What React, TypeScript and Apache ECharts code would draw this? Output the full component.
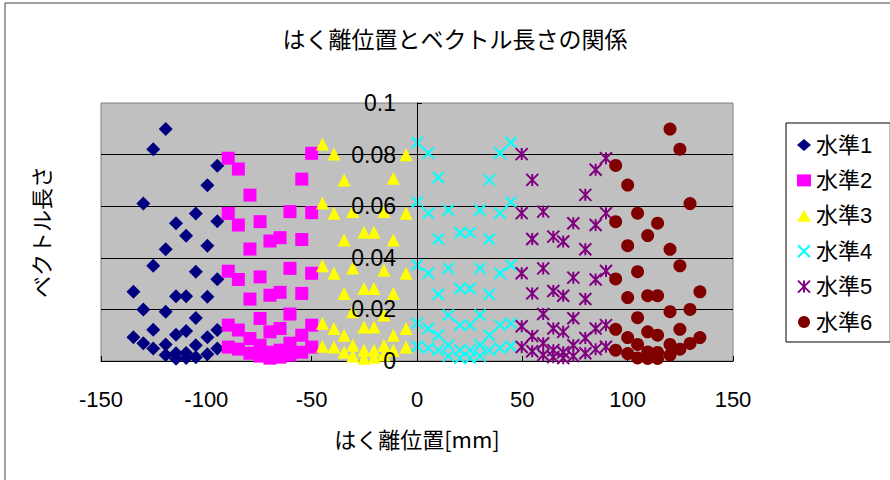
import { useEffect, useRef } from "react";
import * as echarts from "echarts";

// Axis ranges
const X_MIN = -150;
const X_MAX = 150;
const X_STEP = 50;
const Y_MIN = 0;
const Y_MAX = 0.1;
const Y_STEP = 0.02;

const seriesNames = ["水準1", "水準2", "水準3", "水準4", "水準5", "水準6"];
const seriesColors = ["#000080", "#FF00FF", "#FFFF00", "#00FFFF", "#800080", "#800000"];

// [はく離位置 mm, ベクトル長さ]
const level1: [number, number][] = [
  [-134.6, 0.0268], [-134.6, 0.0092],
  [-129.9, 0.061], [-129.9, 0.02], [-129.9, 0.0069],
  [-125.2, 0.0821], [-125.2, 0.0369], [-125.2, 0.0121], [-125.2, 0.0048],
  [-119.3, 0.0899], [-119.3, 0.0433], [-119.3, 0.0191], [-119.3, 0.0064], [-119.3, 0.0023],
  [-114.4, 0.0534], [-114.4, 0.0251], [-114.4, 0.0102], [-114.4, 0.003], [-114.4, 0.0009],
  [-109.6, 0.0485], [-109.6, 0.0251], [-109.6, 0.0116], [-109.6, 0.0031], [-109.6, 0.0012],
  [-105.0, 0.0572], [-105.0, 0.0346], [-105.0, 0.0167], [-105.0, 0.0061], [-105.0, 0.0015],
  [-99.5, 0.0681], [-99.5, 0.0447], [-99.5, 0.0249], [-99.5, 0.0092], [-99.5, 0.0026],
  [-94.8, 0.0757], [-94.8, 0.0542], [-94.8, 0.0317], [-94.8, 0.012], [-94.8, 0.0048],
];

const level2: [number, number][] = [
  [-89.6, 0.0786], [-89.6, 0.0572], [-89.6, 0.0348], [-89.6, 0.0139], [-89.6, 0.0054],
  [-84.8, 0.0744], [-84.8, 0.0527], [-84.8, 0.0316], [-84.8, 0.012], [-84.8, 0.0046],
  [-79.3, 0.0643], [-79.3, 0.0434], [-79.3, 0.024], [-79.3, 0.0087], [-79.3, 0.003],
  [-74.5, 0.054], [-74.5, 0.0326], [-74.5, 0.0165], [-74.5, 0.0061], [-74.5, 0.0019],
  [-69.8, 0.0465], [-69.8, 0.0255], [-69.8, 0.0113], [-69.8, 0.0034], [-69.8, 0.0011],
  [-65.0, 0.0478], [-65.0, 0.0266], [-65.0, 0.0126], [-65.0, 0.0042], [-65.0, 0.0015],
  [-60.3, 0.0579], [-60.3, 0.0359], [-60.3, 0.0182], [-60.3, 0.0069], [-60.3, 0.0023],
  [-54.7, 0.0705], [-54.7, 0.0471], [-54.7, 0.0262], [-54.7, 0.01], [-54.7, 0.0034],
  [-50.0, 0.0805], [-50.0, 0.0575], [-50.0, 0.034], [-50.0, 0.0139], [-50.0, 0.0054],
];

const level3: [number, number][] = [
  [-44.9, 0.0841], [-44.9, 0.0612], [-44.9, 0.0369], [-44.9, 0.0146], [-44.9, 0.0057],
  [-39.4, 0.0802], [-39.4, 0.0573], [-39.4, 0.034], [-39.4, 0.0126], [-39.4, 0.0054],
  [-34.6, 0.0702], [-34.6, 0.0469], [-34.6, 0.0262], [-34.6, 0.01], [-34.6, 0.0034],
  [-30.5, 0.0579], [-30.5, 0.036], [-30.5, 0.0191], [-30.5, 0.0061], [-30.5, 0.0019],
  [-25.2, 0.0499], [-25.2, 0.0281], [-25.2, 0.0132], [-25.2, 0.0042], [-25.2, 0.0011],
  [-20.4, 0.0499], [-20.4, 0.0281], [-20.4, 0.0132], [-20.4, 0.0042], [-20.4, 0.0015],
  [-15.7, 0.0579], [-15.7, 0.0352], [-15.7, 0.0178], [-15.7, 0.0061], [-15.7, 0.0023],
  [-11.2, 0.0708], [-11.2, 0.0469], [-11.2, 0.0262], [-11.2, 0.01], [-11.2, 0.0042],
  [-5.2, 0.0799], [-5.2, 0.0573], [-5.2, 0.034], [-5.2, 0.0126], [-5.2, 0.0054],
];

const level4: [number, number][] = [
  [0.1, 0.0847], [0.1, 0.0616], [0.1, 0.0372], [0.1, 0.0146], [0.1, 0.0057],
  [5.4, 0.0806], [5.4, 0.0573], [5.4, 0.034], [5.4, 0.0126], [5.4, 0.005],
  [10.1, 0.0711], [10.1, 0.0473], [10.1, 0.0259], [10.1, 0.01], [10.1, 0.0042],
  [14.9, 0.0585], [14.9, 0.0359], [14.9, 0.0178], [14.9, 0.0061], [14.9, 0.0019],
  [20.4, 0.0497], [20.4, 0.0281], [20.4, 0.0139], [20.4, 0.0042], [20.4, 0.0011],
  [25.2, 0.0497], [25.2, 0.0281], [25.2, 0.0139], [25.2, 0.0042], [25.2, 0.0011],
  [29.9, 0.0585], [29.9, 0.0359], [29.9, 0.0178], [29.9, 0.0061], [29.9, 0.0019],
  [34.3, 0.0702], [34.3, 0.0473], [34.3, 0.0259], [34.3, 0.01], [34.3, 0.0042],
  [39.4, 0.0806], [39.4, 0.0573], [39.4, 0.034], [39.4, 0.0139], [39.4, 0.005],
  [44.6, 0.0847], [44.6, 0.0616], [44.6, 0.0372], [44.6, 0.0146], [44.6, 0.0057],
];

const level5: [number, number][] = [
  [49.7, 0.0802], [49.7, 0.0573], [49.7, 0.034], [49.7, 0.0135], [49.7, 0.0054],
  [54.7, 0.0702], [54.7, 0.0473], [54.7, 0.0262], [54.7, 0.0097], [54.7, 0.0038],
  [59.9, 0.0579], [59.9, 0.0359], [59.9, 0.0182], [59.9, 0.0069], [59.9, 0.0023],
  [64.7, 0.0482], [64.7, 0.0271], [64.7, 0.0126], [64.7, 0.0042], [64.7, 0.0015],
  [69.4, 0.0463], [69.4, 0.0253], [69.4, 0.0113], [69.4, 0.0034], [69.4, 0.0011],
  [74.2, 0.0534], [74.2, 0.0323], [74.2, 0.0166], [74.2, 0.0061], [74.2, 0.0019],
  [79.9, 0.0644], [79.9, 0.0433], [79.9, 0.024], [79.9, 0.0089], [79.9, 0.003],
  [84.8, 0.0741], [84.8, 0.0527], [84.8, 0.0316], [84.8, 0.0126], [84.8, 0.0046],
  [89.7, 0.0786], [89.7, 0.0573], [89.7, 0.0349], [89.7, 0.0139], [89.7, 0.0055],
];

const level6: [number, number][] = [
  [94.3, 0.0758], [94.3, 0.054], [94.3, 0.0318], [94.3, 0.0123], [94.3, 0.0042],
  [100.0, 0.0682], [100.0, 0.0447], [100.0, 0.0246], [100.0, 0.0091], [100.0, 0.0029],
  [104.7, 0.0573], [104.7, 0.0346], [104.7, 0.0168], [104.7, 0.0064], [104.7, 0.0012],
  [109.5, 0.0486], [109.5, 0.0253], [109.5, 0.0113], [109.5, 0.0035], [109.5, 0.001],
  [114.2, 0.0534], [114.2, 0.0253], [114.2, 0.01], [114.2, 0.0033], [114.2, 0.001],
  [120.1, 0.0899], [120.1, 0.0433], [120.1, 0.0191], [120.1, 0.0064], [120.1, 0.0023],
  [124.8, 0.0821], [124.8, 0.0369], [124.8, 0.0123], [124.8, 0.0046],
  [129.6, 0.061], [129.6, 0.02], [129.6, 0.0068],
  [134.3, 0.0268], [134.3, 0.0091],
];

const seriesData = [level1, level2, level3, level4, level5, level6];

const CROSS = "path://M0,0L10,10M10,0L0,10";
const STAR = "path://M0,0L10,10M10,0L0,10M5,0L5,10";
const seriesSymbols = ["diamond", "rect", "triangle", CROSS, STAR, "circle"];
const seriesSymbolSizes = [14, 13, 13, 11, 12, 13];

const LATIN = "'Liberation Sans', Arial, 'Noto Sans CJK JP', sans-serif";
const CJK = "'Noto Sans CJK JP', 'Liberation Sans', sans-serif";

// Plot area in pixels
const GRID_LEFT = 101;
const GRID_RIGHT = 157;
const CHART_W = 890;

export default function App() {
  const ref = useRef<HTMLDivElement>(null);

  useEffect(() => {
    if (!ref.current) return;
    const chart = echarts.init(ref.current, undefined, { renderer: "svg" });

    // the value axis crosses at x = 0, i.e. the middle of the plot
    const plotW = CHART_W - GRID_LEFT - GRID_RIGHT;
    const zeroOffset = -Math.round((plotW * (0 - X_MIN)) / (X_MAX - X_MIN));

    const series = seriesData.map((data, i) => {
      const lineOnly = i === 3 || i === 4;
      return {
        name: seriesNames[i],
        type: "scatter",
        data,
        symbol: seriesSymbols[i],
        symbolSize: seriesSymbolSizes[i],
        xAxisIndex: 0,
        yAxisIndex: 0,
        itemStyle: lineOnly
          ? { color: seriesColors[i], borderColor: seriesColors[i], borderWidth: 2, opacity: 1 }
          : { color: seriesColors[i], opacity: 1 },
        emphasis: { disabled: true },
      };
    });

    const option = {
      animation: false,
      backgroundColor: "#ffffff",
      graphic: [
        {
          type: "rect",
          z: -10,
          shape: { x: 5, y: 3, width: 900, height: 490 },
          style: { fill: "none", stroke: "#404040", lineWidth: 1 },
        },
        {
          type: "text",
          x: 455,
          y: 38,
          style: {
            text: "はく離位置とベクトル長さの関係",
            fontFamily: CJK,
            fontSize: 23,
            fill: "#000",
            align: "center",
            verticalAlign: "middle",
          },
        },
        {
          type: "text",
          x: 40,
          y: 232,
          rotation: Math.PI / 2,
          style: {
            text: "ベクトル長さ",
            fontFamily: CJK,
            fontSize: 22,
            fill: "#000",
            align: "center",
            verticalAlign: "middle",
          },
        },
      ],
      grid: {
        left: GRID_LEFT,
        right: GRID_RIGHT,
        top: 103,
        bottom: 119,
        show: true,
        backgroundColor: "#C0C0C0",
        borderColor: "#808080",
        borderWidth: 1,
      },
      legend: {
        orient: "vertical",
        left: 786,
        top: 123,
        padding: [10, 18, 8, 11],
        itemGap: 11.4,
        itemWidth: 14,
        itemHeight: 12,
        borderColor: "#000",
        borderWidth: 1,
        backgroundColor: "#fff",
        textStyle: { fontSize: 22, fontFamily: LATIN, color: "#000", lineHeight: 24 },
        data: seriesNames,
      },
      xAxis: {
        type: "value",
        min: X_MIN,
        max: X_MAX,
        interval: X_STEP,
        axisLine: { show: true, onZero: true, lineStyle: { color: "#000", width: 1 } },
        axisTick: { show: true, inside: true, length: 5, lineStyle: { color: "#000" } },
        axisLabel: { fontSize: 22, fontFamily: LATIN, color: "#000", margin: 27 },
        splitLine: { show: false },
        name: "はく離位置[mm]",
        nameLocation: "middle",
        nameGap: 66,
        nameTextStyle: { fontSize: 22, fontFamily: CJK, color: "#000" },
      },
      yAxis: [
        {
          type: "value",
          min: Y_MIN,
          max: Y_MAX,
          interval: Y_STEP,
          position: "left",
          z: 0,
          axisLine: { show: false, onZero: false },
          axisTick: { show: false },
          axisLabel: { show: false },
          splitLine: { show: true, showMaxLine: false, lineStyle: { color: "#000", width: 1 } },
        },
        {
          type: "value",
          min: Y_MIN,
          max: Y_MAX,
          interval: Y_STEP,
          position: "left",
          offset: zeroOffset,
          z: 10,
          axisLine: { show: true, onZero: false, lineStyle: { color: "#000", width: 1 } },
          axisTick: { show: true, inside: true, length: 5, lineStyle: { color: "#000" } },
          axisLabel: { fontSize: 23, fontFamily: LATIN, color: "#000", margin: 21 },
          splitLine: { show: false },
        },
      ],
      series,
    };

    chart.setOption(option as any);
    return () => chart.dispose();
  }, []);

  return (
    <div
      ref={ref}
      style={{ position: "fixed", left: 0, top: 0, width: CHART_W, height: 480 }}
    />
  );
}
